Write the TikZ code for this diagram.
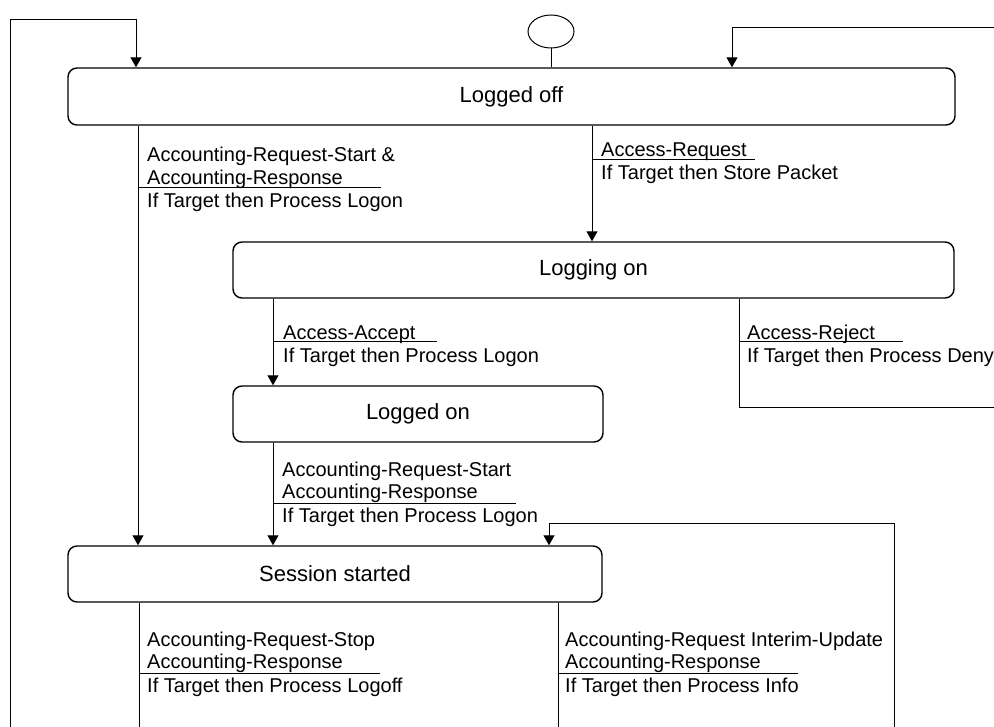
\documentclass[tikz,border=0pt]{standalone}
\usepackage{fontspec}
\setmainfont{Liberation Sans}
\usetikzlibrary{arrows.meta, shapes.geometric}

\begin{document}
\begin{tikzpicture}[x=1pt, y=-1pt,
		state/.style={draw, line width=1.4pt, rounded corners=9pt, font=\fontsize{22}{24}\selectfont},
		trans/.style={anchor=base west, inner sep=0pt, align=left, font=\fontsize{20}{22.5}\selectfont},
		conn/.style={line width=1pt},
		arr/.style={conn, -{Triangle[length=10pt, width=11pt]}},
		rule/.style={line width=1pt}]
	\useasboundingbox (0,0) rectangle (994,727);
	\node[draw, ellipse, line width=1pt, minimum width=46pt, minimum height=33pt, inner sep=0pt] (init) at (551,31.5) {};
	\node[state, minimum width=887pt, minimum height=57pt] (loggedoff) at (511.5,96.5) {Logged off};
	\node[state, minimum width=721pt, minimum height=56pt] (loggingon) at (593.5,270) {Logging on};
	\node[state, minimum width=370pt, minimum height=56pt] (loggedon) at (418,414) {Logged on};
	\node[state, minimum width=534pt, minimum height=56pt] (session) at (335,574) {Session started};
	\coordinate (xstart) at (138,0);
	\coordinate (xreq) at (592,0);
	\coordinate (xacc) at (273,0);
	\coordinate (xrej) at (739,0);
	\coordinate (xstop) at (139,0);
	\coordinate (xinfo) at (558,0);
	\coordinate (lcorner) at (136,20);
	\coordinate (leftend) at (10,727);
	\coordinate (rcorner) at (732,28);
	\coordinate (rightend) at (994,28);
	\coordinate (rejend) at (994,408);
	\coordinate (icorner) at (549,523);
	\coordinate (infoend) at (894,727);
	\draw[conn] (init.south) -- (init.south |- loggedoff.north);
	\draw[arr] (leftend) |- (lcorner) -- (lcorner |- loggedoff.north);
	\draw[arr] (rightend) -- (rcorner) -- (rcorner |- loggedoff.north);
	\draw[arr] (xstart |- loggedoff.south) -- (xstart |- session.north);
	\draw[arr] (xreq |- loggedoff.south) -- (xreq |- loggingon.north);
	\draw[arr] (xacc |- loggingon.south) -- (xacc |- loggedon.north);
	\draw[conn] (xrej |- loggingon.south) |- (rejend);
	\draw[arr] (xacc |- loggedon.south) -- (xacc |- session.north);
	\draw[arr] (infoend) |- (icorner) -- (icorner |- session.north);
	\draw[conn] (xstop |- session.south) -- (xstop |- leftend);
	\draw[conn] (xinfo |- session.south) -- (xinfo |- infoend);
	\node[trans] (lblstart) at (147,208) {Accounting-Request-Start \&\\Accounting-Response\\[1pt]If Target then Process Logon};
	\node[trans] (lblreq) at (601,180) {Access-Request\\[1pt]If Target then Store Packet};
	\node[trans] (lblacc) at (283,363) {Access-Accept\\[1pt]If Target then Process Logon};
	\node[trans] (lblrej) at (747,363) {Access-Reject\\[1pt]If Target then Process Deny};
	\node[trans] (lbllogon) at (282,522) {Accounting-Request-Start\\Accounting-Response\\[1pt]If Target then Process Logon};
	\node[trans] (lblstop) at (147,692) {Accounting-Request-Stop\\Accounting-Response\\[1pt]If Target then Process Logoff};
	\node[trans] (lblinfo) at (565,692) {Accounting-Request Interim-Update\\Accounting-Response\\[1pt]If Target then Process Info};
	\draw[rule] (138,188) -- (381,188);
	\draw[rule] (592,160) -- (755,160);
	\draw[rule] (273,342) -- (437,342);
	\draw[rule] (739,342) -- (903,342);
	\draw[rule] (273,503) -- (516,503);
	\draw[rule] (139,673) -- (380,673);
	\draw[rule] (558,673) -- (798,673);
\end{tikzpicture}
\end{document}
